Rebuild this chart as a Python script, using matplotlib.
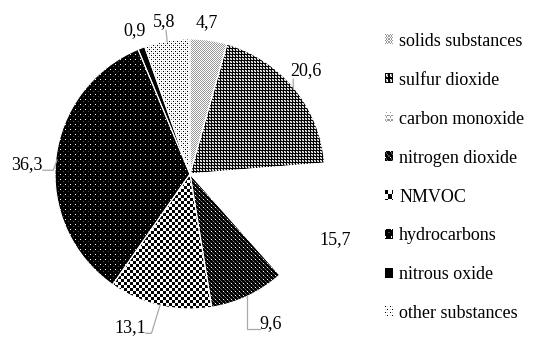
import matplotlib
matplotlib.use("Agg")
import numpy as np
from matplotlib import pyplot as plt
from matplotlib.colors import Normalize
from matplotlib.image import BboxImage
from matplotlib.legend_handler import HandlerBase
from matplotlib.transforms import Bbox, TransformedBbox

plt.rcParams['font.family'] = ['Liberation Serif', 'DejaVu Serif']

# data (clockwise from the top)
labels = ['solids substances', 'sulfur dioxide', 'carbon monoxide', 'nitrogen dioxide',
          'NMVOC', 'hydrocarbons', 'nitrous oxide', 'other substances']
values = [4.7, 20.6, 15.7, 9.6, 13.1, 36.3, 0.9, 5.8]
value_text = ['4,7', '20,6', '15,7', '9,6', '13,1', '36,3', '0,9', '5,8']

# pixel textures for the slices (1 = white, 0 = black)
W, G, L, K = 1.0, 0.6, 0.8, 0.0
tiles = [
    np.array([[G, W], [W, G]]),                                  # solids: gray stipple
    np.array([[K, K, K], [K, W, G], [K, G, W]]),                 # sulfur: grid
    np.array([[W]]),                                             # carbon monoxide: blank
    np.array([[W, K, K, K], [K, 0.3, K, K], [K, K, 0.45, K], [K, K, K, 0.3]]),  # nitrogen dioxide
    np.kron(np.array([[K, W], [W, K]]), np.ones((3, 3))),        # NMVOC: checkerboard
    np.array([[W, K, K, K, K], [K, K, K, K, K], [K, K, K, 0.3, K],
              [K, K, K, K, K], [K, K, K, K, K]]),                # hydrocarbons
    np.array([[K]]),                                             # nitrous oxide
    np.array([[K, W, L, W], [W, W, W, W], [L, W, K, W], [W, W, W, W]]),  # other
]
# carbon monoxide only shows a faint pattern in the legend key
co_key = np.array([[W, G, W], [W, W, W], [G, W, G]])

# label placement: radial distance and angular nudge (deg)
lab_r = [1.13, 1.15, 1.18, 1.26, 1.22, 1.21, 1.14, 1.145]
lab_da = [1.5, 2.4, -2.4, 3.0, -8.6, 2.75, 0.0, 0.0]
# leader lines: where they leave the label and how they bend (None = no line)
lead_rel = [None, (0.1, 0.0), None, (0.0, 0.15), (1.0, 0.15), (1.0, 0.15), None, (0.6, 0.0)]
lead_conn = [None, 'arc3', None, 'angle,angleA=0,angleB=90,rad=0',
             'angle,angleA=0,angleB=73,rad=0', 'angle,angleA=0,angleB=70,rad=0',
             None, 'arc3']


def texture(tile, n):
    reps = (n // tile.shape[0] + 1, n // tile.shape[1] + 1)
    return np.tile(tile, reps)[:n, :n]


class HandlerTexture(HandlerBase):
    def __init__(self, data):
        super().__init__()
        self.data = data

    def create_artists(self, legend, orig_handle, xdescent, ydescent,
                       width, height, fontsize, trans):
        bb = TransformedBbox(Bbox.from_bounds(-xdescent, -ydescent, width, height), trans)
        im = BboxImage(bb, cmap='gray', norm=Normalize(0, 1), interpolation='nearest')
        im.set_data(self.data)
        return [im]


fig = plt.figure(figsize=(5.36, 3.38), dpi=100)
ax = fig.add_axes([55/536, 29/338, 270/536, 270/338])

wedges, _ = ax.pie(values, startangle=90, counterclock=False, radius=1.0,
                   wedgeprops=dict(linewidth=0.8, facecolor='none', edgecolor='white'))

npx = 270
for w, t in zip(wedges, tiles):
    im = ax.imshow(texture(t, npx), cmap='gray', vmin=0, vmax=1, extent=(-1, 1, -1, 1),
                   interpolation='nearest', zorder=0)
    im.set_clip_path(w)

ax.set_xlim(-1, 1)
ax.set_ylim(-1, 1)
ax.set_aspect('equal')
ax.axis('off')

for w, txt, r, da, rel, conn in zip(wedges, value_text, lab_r, lab_da, lead_rel, lead_conn):
    mid = np.deg2rad((w.theta1 + w.theta2) / 2)
    ang = mid + np.deg2rad(da)
    tx, ty = r * np.cos(ang), r * np.sin(ang)
    if rel is not None:
        ax.annotate(txt, xy=(0.99 * np.cos(mid), 0.99 * np.sin(mid)), xytext=(tx, ty),
                    ha='center', va='center', fontsize=13,
                    arrowprops=dict(arrowstyle='-', color='#a8a8a8', lw=0.9,
                                    relpos=rel, patchA=None, shrinkA=0, shrinkB=0,
                                    connectionstyle=conn))
    else:
        ax.text(tx, ty, txt, ha='center', va='center', fontsize=13)

# legend keys drawn with the same textures
handles = [plt.Rectangle((0, 0), 1, 1) for _ in labels]
key_data = [texture(co_key if i == 2 else t, 7) for i, t in enumerate(tiles)]
hmap = {h: HandlerTexture(d) for h, d in zip(handles, key_data)}

fig.legend(handles, labels, handler_map=hmap, loc='upper left',
           bbox_to_anchor=(378/536, 1 - 26/338),
           frameon=False, fontsize=13, handlelength=0.42, handleheight=0.42,
           handletextpad=0.35, labelspacing=1.21, borderaxespad=0)

fig.savefig('out.png', dpi=100)
